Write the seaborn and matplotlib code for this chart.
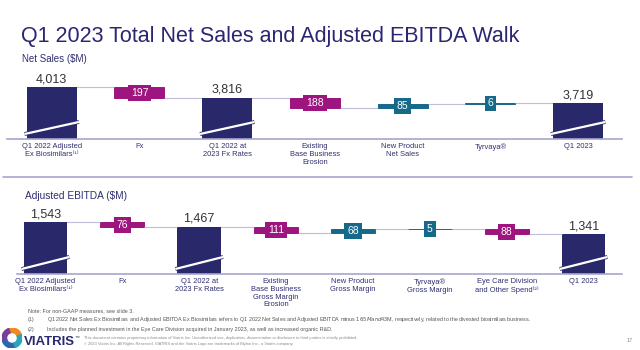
import matplotlib
matplotlib.use("Agg")
import matplotlib.pyplot as plt
import matplotlib.patheffects as pe
from matplotlib.patches import Wedge
import seaborn as sns

# Net sales walk ($M)
sales_labels = ["Q1 2022 Adjusted\nEx Biosimilars⁽¹⁾", "Fx", "Q1 2022 at\n2023 Fx Rates",
                "Existing\nBase Business\nErosion", "New Product\nNet Sales", "Tyrvaya®", "Q1 2023"]
sales_steps = [4013, -197, 3816, -188, 85, 6, 3719]
sales_kind = ["total", "down", "total", "down", "up", "up", "total"]

# Adjusted EBITDA walk ($M)
ebitda_labels = ["Q1 2022 Adjusted\nEx Biosimilars⁽¹⁾", "Fx", "Q1 2022 at\n2023 Fx Rates",
                 "Existing\nBase Business\nGross Margin\nErosion", "New Product\nGross Margin",
                 "Tyrvaya®\nGross Margin", "Eye Care Division\nand Other Spend⁽²⁾", "Q1 2023"]
ebitda_steps = [1543, -76, 1467, -111, 68, 5, -88, 1341]
ebitda_kind = ["total", "down", "total", "down", "up", "up", "down", "total"]

NAVY = "#29286b"
MAGENTA = "#9e157f"
TEAL = "#17698a"
AXIS = "#a7a5cf"
DOTS = "#8c8abb"
TEXT = "#2f2e6f"
colors = {"total": NAVY, "down": MAGENTA, "up": TEAL}

sns.set_theme(style="white")
plt.rcParams["font.family"] = ["Liberation Sans", "DejaVu Sans"]


def walk(ax, labels, steps, kinds, floor, top, px):
    bottoms, heights, after = [], [], []
    level = 0
    for s, k in zip(steps, kinds):
        if k == "total":
            bottoms.append(floor - 200)
            heights.append(s - floor + 200)
            level = s
        elif k == "down":
            level = level + s
            bottoms.append(level)
            heights.append(-s)
        else:
            bottoms.append(level)
            heights.append(s)
            level = level + s
        after.append(level)

    w = 0.57
    sns.barplot(x=labels, y=heights, bottom=bottoms, order=labels, width=w,
                color=NAVY, saturation=1, errorbar=None, ax=ax)
    for p, k in zip(ax.patches, kinds):
        p.set_facecolor(colors[k])
        p.set_edgecolor(colors[k] if k != "total" else "none")
        p.set_linewidth(0.7)

    for i, (s, k) in enumerate(zip(steps, kinds)):
        if k == "total":
            ax.annotate(f"{s:,}", (i, s), xytext=(0, 1.5), textcoords="offset points",
                        ha="center", va="bottom", fontsize=9, color="#333333")
            ax.plot([i - 0.31, i + 0.31], [floor + 5 * px, floor + 17 * px], color="white",
                    lw=1.6, solid_capstyle="butt", clip_on=False,
                    path_effects=[pe.Stroke(linewidth=2.8, foreground=NAVY), pe.Normal()])
        else:
            ax.text(i, bottoms[i] + heights[i] / 2, str(abs(s)), ha="center", va="center",
                    fontsize=7.5, color="white",
                    bbox=dict(boxstyle="square,pad=0.28", fc=colors[k], ec="none"))

    for i in range(len(steps) - 1):
        ax.plot([i + w / 2, i + 1 - w / 2], [after[i], after[i]], color=DOTS,
                lw=0.8, ls=(0, (1, 0.8)))

    ax.set_ylim(floor, top)
    ax.set_ylabel("")
    ax.set_yticks([])
    sns.despine(ax=ax, left=True)
    ax.spines["bottom"].set_color(AXIS)
    ax.spines["bottom"].set_linewidth(1.2)
    ax.tick_params(axis="x", length=0, pad=3, labelsize=5.4, labelcolor=TEXT)
    for t in ax.get_xticklabels():
        t.set_linespacing(1.15)


fig = plt.figure(figsize=(6.4, 3.5), dpi=100)

ax1 = fig.add_axes([7 / 640, 1 - 139 / 350, 615 / 640, 64 / 350])
walk(ax1, sales_labels, sales_steps, sales_kind, 3062, 3062 + 64 * 18.4, 18.4)
ax1.set_xlim(-0.51, 6.5)

ax2 = fig.add_axes([17 / 640, 1 - 274 / 350, 605 / 640, 64 / 350])
walk(ax2, ebitda_labels, ebitda_steps, ebitda_kind, 665, 665 + 64 * 17, 17)
ax2.set_xlim(-0.37, 7.5)

# separator between the two walks
fig.add_artist(plt.Line2D([3 / 640, 632 / 640], [1 - 177 / 350] * 2, color=AXIS, lw=1.2))

fig.text(21 / 640, 1 - 42 / 350, "Q1 2023 Total Net Sales and Adjusted EBITDA Walk",
         fontsize=15.5, color="#2b2672", va="baseline")
fig.text(22 / 640, 1 - 59 / 350, "Net Sales ($M)", fontsize=7, color=TEXT, va="center")
fig.text(25 / 640, 1 - 196 / 350, "Adjusted EBITDA ($M)", fontsize=7.3, color=TEXT, va="center")

notes = ["Note: For non-GAAP measures, see slide 3.",
         "Q1 2022 Net Sales Ex Biosimilars and Adjusted EBITDA Ex Biosimilars refers to Q1 2022 Net Sales "
         "and Adjusted EBITDA minus $165M and $43M, respectively, related to the divested biosimilars business.",
         "Includes the planned investment in the Eye Care Division acquired in January 2023, as well as "
         "increased organic R&D."]
fig.text(28 / 640, 1 - 311 / 350, notes[0], fontsize=3.9, color="#555555", va="center")
fig.text(28 / 640, 1 - 320 / 350, "(1)", fontsize=3.9, color="#555555", va="center")
fig.text(47 / 640, 1 - 320 / 350, notes[1], fontsize=3.9, color="#555555", va="center")
fig.text(28 / 640, 1 - 329 / 350, "(2)", fontsize=3.9, color="#555555", va="center")
fig.text(47 / 640, 1 - 329 / 350, notes[2], fontsize=3.9, color="#555555", va="center")

# footer
logo = fig.add_axes([2 / 640, 2 / 350, 20 / 640, 20 / 350])
logo.set_xlim(-1, 1)
logo.set_ylim(-1, 1)
logo.set_aspect("equal")
logo.axis("off")
for a0, a1, c in [(20, 110, "#f08a24"), (110, 200, "#7b3f98"), (200, 290, "#2b67b1"), (290, 380, "#2aa6b8")]:
    logo.add_patch(Wedge((0, 0), 1, a0, a1, width=0.45, color=c))
fig.text(24 / 640, 1 - 342 / 350, "VIATRIS", fontsize=9.5, fontweight="bold", color="#2b2a6e", va="center")
fig.text(75 / 640, 1 - 337 / 350, "™", fontsize=3.5, color="#2b2a6e", va="center")
fig.text(84 / 640, 1 - 338 / 350,
         "This document contains proprietary information of Viatris Inc. Unauthorized use, duplication, "
         "dissemination or disclosure to third parties is strictly prohibited.",
         fontsize=2.9, color="#8a8a8a", va="center")
fig.text(84 / 640, 1 - 344 / 350,
         "© 2023 Viatris Inc. All Rights Reserved. VIATRIS and the Viatris Logo are trademarks of Mylan Inc., "
         "a Viatris company.",
         fontsize=2.9, color="#8a8a8a", va="center")
fig.text(627 / 640, 1 - 341 / 350, "17", fontsize=4, color="#8a8a8a", va="center")

fig.savefig("out.png", dpi=100, facecolor="white")
plt.close(fig)
